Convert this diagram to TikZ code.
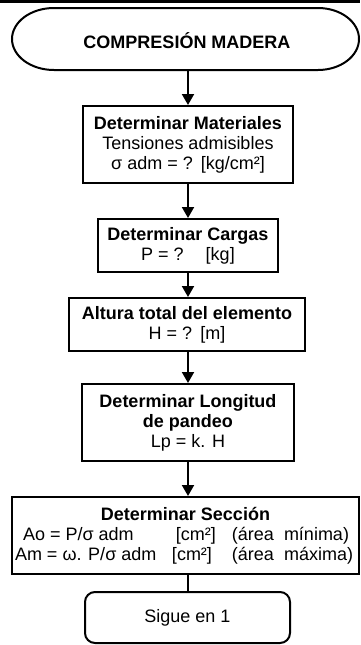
\documentclass[tikz,border=0pt]{standalone}
\usepackage{fontspec}
\setmainfont{Liberation Sans}
\usetikzlibrary{arrows.meta}
\begin{document}
\begin{tikzpicture}[x=1pt,y=-1pt,
  every node/.style={font=\fontsize{18}{20}\selectfont},
  box/.style={draw,line width=2pt,inner sep=0pt,align=center,anchor=center},
  arr/.style={line width=2pt,-{Triangle[width=12pt,length=11pt]}},
  lnk/.style={line width=2pt}]
\useasboundingbox (0,0) rectangle (360,645);
\fill[white] (0,0) rectangle (360,645);
\draw[line width=2.2pt] (0,1.5) -- (360,1.5);
% start terminal
\node[inner sep=0pt,minimum width=348pt,minimum height=62pt,font=\bfseries\fontsize{18}{20}\selectfont] (start) at (187,41) {COMPRESIÓN MADERA};
\draw[line width=2pt] (54,8) -- (318,8) arc[start angle=-90,end angle=90,x radius=41,y radius=31]
  -- (54,70) arc[start angle=90,end angle=270,x radius=42,y radius=31] -- cycle;
% boxes
\node[box,minimum width=210pt,minimum height=77pt] (b1) at (188,144.5)
  {\textbf{Determinar Materiales}\\Tensiones admisibles\\σ adm = ?\hspace{8pt}[kg/cm²]};
\node[box,minimum width=180pt,minimum height=53pt] (b2) at (188,245.5)
  {\textbf{Determinar Cargas}\\P = ?\hspace{22pt}[kg]};
\node[box,minimum width=236pt,minimum height=53pt] (b3) at (187,324.5)
  {\textbf{Altura total del elemento}\\H = ?\hspace{8pt}[m]};
\node[box,minimum width=212pt,minimum height=77pt] (b4) at (188,422.5)
  {\textbf{Determinar Longitud}\\\textbf{de pandeo}\\Lp = k. H};
\node[box,minimum width=347pt,minimum height=77pt] (b5) at (185.5,535.5)
  {\textbf{Determinar Sección}\\
   \makebox[345pt][l]{\hspace{10pt}\rlap{Ao = P/σ adm}\hspace{153pt}\rlap{[cm²]}\hspace{56pt}(área\hspace{10pt}mínima)}\\
   \makebox[345pt][l]{\hspace{2pt}\rlap{Am = ω. P/σ adm}\hspace{157pt}\rlap{[cm²]}\hspace{60pt}(área\hspace{10pt}máxima)}};
\node[box,rounded corners=10pt,minimum width=205pt,minimum height=51pt] (end) at (187.5,617.5)
  {Sigue en 1};
% connectors
\draw[arr] (188,70) -- (b1.north);
\draw[arr] (b1.south) -- (b2.north);
\draw[arr] (b2.south) -- (b3.north -| b2.south);
\draw[arr] (b3.south -| b2.south) -- (b4.north);
\draw[arr] (b4.south) -- (b5.north -| b4.south);
\draw[lnk] (b5.south -| b4.south) -- (end.north -| b4.south);
\end{tikzpicture}
\end{document}
